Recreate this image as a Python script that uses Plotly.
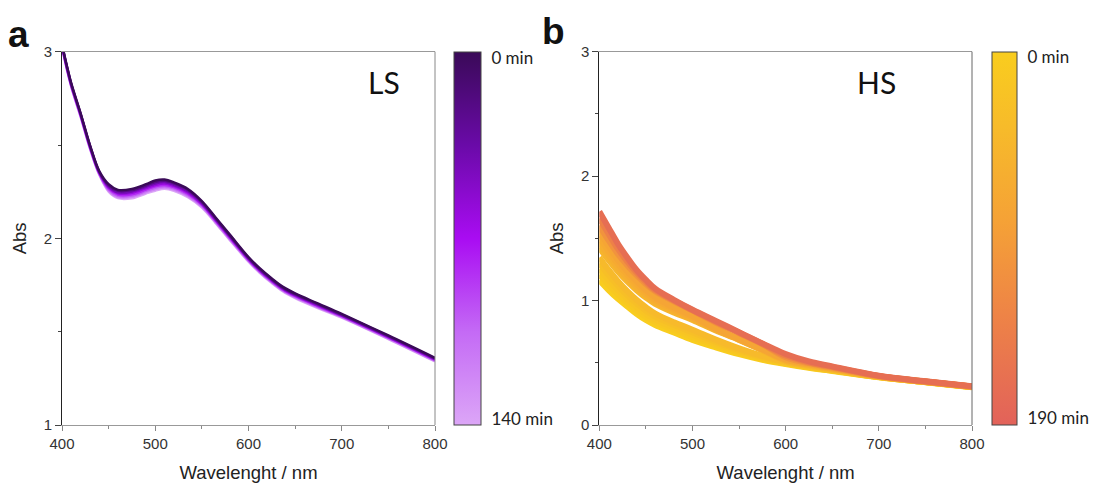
import plotly.graph_objects as go
from plotly.colors import sample_colorscale

# ---------------- data ----------------
ls_wavelength = [400, 405, 410, 420, 430, 440, 450, 460, 475, 490, 500, 510, 520,
                 535, 550, 565, 580, 600, 612, 625, 637, 650, 675, 700, 750, 800]
ls_times = [0, 20, 40, 60, 80, 100, 120, 140]
ls_abs_0 = [3.04, 2.93, 2.83, 2.67, 2.50, 2.36, 2.29, 2.26, 2.265, 2.29, 2.31, 2.315, 2.30,
            2.265, 2.20, 2.11, 2.02, 1.90, 1.84, 1.785, 1.74, 1.705, 1.65, 1.595, 1.48, 1.36]
ls_abs_20 = [3.037, 2.927, 2.827, 2.667, 2.497, 2.357, 2.284, 2.254, 2.258, 2.283, 2.302, 2.308, 2.294,
             2.259, 2.195, 2.106, 2.016, 1.896, 1.836, 1.781, 1.736, 1.701, 1.646, 1.592, 1.477, 1.357]
ls_abs_40 = [3.034, 2.924, 2.824, 2.664, 2.494, 2.354, 2.279, 2.247, 2.251, 2.276, 2.294, 2.301, 2.287,
             2.252, 2.19, 2.101, 2.011, 1.893, 1.833, 1.778, 1.733, 1.698, 1.643, 1.589, 1.474, 1.354]
ls_abs_60 = [3.031, 2.921, 2.821, 2.661, 2.491, 2.351, 2.273, 2.241, 2.244, 2.269, 2.286, 2.294, 2.281,
             2.246, 2.185, 2.097, 2.007, 1.889, 1.829, 1.774, 1.729, 1.694, 1.639, 1.586, 1.471, 1.351]
ls_abs_80 = [3.029, 2.919, 2.819, 2.659, 2.489, 2.349, 2.267, 2.234, 2.236, 2.261, 2.279, 2.286, 2.274,
             2.239, 2.18, 2.093, 2.003, 1.886, 1.826, 1.771, 1.726, 1.691, 1.636, 1.584, 1.469, 1.349]
ls_abs_100 = [3.026, 2.916, 2.816, 2.656, 2.486, 2.346, 2.261, 2.228, 2.229, 2.254, 2.271, 2.279, 2.268,
              2.233, 2.175, 2.089, 1.999, 1.882, 1.822, 1.767, 1.722, 1.687, 1.632, 1.581, 1.466, 1.346]
ls_abs_120 = [3.023, 2.913, 2.813, 2.653, 2.483, 2.343, 2.256, 2.221, 2.222, 2.247, 2.263, 2.272, 2.261,
              2.226, 2.17, 2.084, 1.994, 1.879, 1.819, 1.764, 1.719, 1.684, 1.629, 1.578, 1.463, 1.343]
ls_abs_140 = [3.02, 2.91, 2.81, 2.65, 2.48, 2.34, 2.25, 2.215, 2.215, 2.24, 2.255, 2.265, 2.255,
              2.22, 2.165, 2.08, 1.99, 1.875, 1.815, 1.76, 1.715, 1.68, 1.625, 1.575, 1.46, 1.34]
ls_series = [ls_abs_0, ls_abs_20, ls_abs_40, ls_abs_60, ls_abs_80, ls_abs_100, ls_abs_120, ls_abs_140]

hs_wavelength = [400, 410, 420, 430, 440, 450, 460, 480, 500, 525, 550, 575, 600,
                 625, 650, 700, 750, 800]
hs_times = [0, 10, 20, 30, 40, 50, 60, 70, 80, 110, 140, 170]
hs_abs_0 = [1.164, 1.084, 1.014, 0.954, 0.894, 0.844, 0.804, 0.744, 0.684, 0.624, 0.569, 0.524, 0.489, 0.459, 0.434, 0.384, 0.344, 0.304]
hs_abs_10 = [1.21, 1.125, 1.05, 0.985, 0.922, 0.87, 0.827, 0.765, 0.705, 0.64, 0.58, 0.532, 0.495, 0.463, 0.437, 0.385, 0.345, 0.305]
hs_abs_20 = [1.255, 1.165, 1.085, 1.015, 0.95, 0.895, 0.85, 0.785, 0.725, 0.655, 0.592, 0.54, 0.50, 0.467, 0.44, 0.386, 0.345, 0.306]
hs_abs_30 = [1.30, 1.205, 1.12, 1.045, 0.978, 0.92, 0.873, 0.805, 0.745, 0.67, 0.604, 0.548, 0.505, 0.471, 0.443, 0.387, 0.346, 0.306]
hs_abs_40 = [1.346, 1.246, 1.156, 1.076, 1.006, 0.946, 0.896, 0.826, 0.766, 0.686, 0.616, 0.556, 0.51, 0.475, 0.446, 0.388, 0.346, 0.307]
hs_abs_50 = [1.424, 1.324, 1.234, 1.154, 1.084, 1.024, 0.974, 0.904, 0.844, 0.759, 0.684, 0.60, 0.515, 0.479, 0.449, 0.389, 0.347, 0.307]
hs_abs_60 = [1.468, 1.361, 1.265, 1.181, 1.108, 1.045, 0.991, 0.918, 0.855, 0.765, 0.686, 0.603, 0.52, 0.483, 0.452, 0.39, 0.347, 0.308]
hs_abs_70 = [1.512, 1.399, 1.295, 1.209, 1.132, 1.065, 1.009, 0.932, 0.865, 0.77, 0.689, 0.606, 0.525, 0.487, 0.455, 0.391, 0.348, 0.308]
hs_abs_80 = [1.556, 1.436, 1.326, 1.236, 1.156, 1.086, 1.026, 0.946, 0.876, 0.776, 0.691, 0.61, 0.53, 0.491, 0.458, 0.392, 0.348, 0.309]
hs_abs_110 = [1.604, 1.484, 1.374, 1.284, 1.204, 1.134, 1.074, 0.994, 0.92, 0.824, 0.739, 0.65, 0.545, 0.497, 0.462, 0.393, 0.349, 0.309]
hs_abs_140 = [1.66, 1.535, 1.415, 1.315, 1.225, 1.15, 1.085, 1.0, 0.923, 0.83, 0.742, 0.653, 0.558, 0.504, 0.467, 0.395, 0.35, 0.31]
hs_abs_170 = [1.716, 1.586, 1.456, 1.346, 1.246, 1.166, 1.096, 1.006, 0.926, 0.836, 0.746, 0.656, 0.571, 0.511, 0.471, 0.396, 0.351, 0.311]
hs_series = [hs_abs_0, hs_abs_10, hs_abs_20, hs_abs_30, hs_abs_40, hs_abs_50, hs_abs_60,
             hs_abs_70, hs_abs_80, hs_abs_110, hs_abs_140, hs_abs_170]

ls_colorscale = [[0.0, "#dca6f7"], [0.25, "#c46af5"], [0.5, "#a90cf2"],
                 [0.75, "#6a0aa8"], [1.0, "#3a0a58"]]
hs_colorscale = [[0.0, "#e2625a"], [0.3, "#ee8446"], [0.55, "#f5a236"],
                 [0.8, "#f7bb2a"], [1.0, "#f9cd1e"]]

# ---------------- layout geometry ----------------
W, H = 1099, 483
def px_x(p): return p / W
def px_y(p): return 1 - p / H

fig = go.Figure()

for t, ys in reversed(list(zip(ls_times, ls_series))):
    c = sample_colorscale(ls_colorscale, [1 - t / 140])[0]
    fig.add_trace(go.Scatter(x=ls_wavelength, y=ys, mode="lines", line=dict(color=c, width=2.4, shape="spline"),
                             xaxis="x", yaxis="y", showlegend=False, hoverinfo="skip"))

for t, ys in zip(hs_times, hs_series):
    c = sample_colorscale(hs_colorscale, [1 - t / 190])[0]
    fig.add_trace(go.Scatter(x=hs_wavelength, y=ys, mode="lines", line=dict(color=c, width=6, shape="spline"),
                             xaxis="x2", yaxis="y2", showlegend=False, hoverinfo="skip"))

cb_common = dict(lenmode="pixels", len=373, yanchor="top", y=px_y(51.7), xanchor="left",
                 xpad=0, ypad=0, outlinecolor="#444", outlinewidth=1,
                 ticks="outside", ticklen=7, tickcolor="rgba(0,0,0,0)",
                 tickfont=dict(family="Lato", size=17, color="#222"))
fig.add_trace(go.Scatter(x=[None], y=[None], mode="markers", xaxis="x", yaxis="y", showlegend=False,
                         marker=dict(color=[0], cmin=-140, cmax=0, colorscale=ls_colorscale, showscale=True,
                                     colorbar=dict(x=px_x(454), thickness=27,
                                                   tickvals=[-2.4, -137.7], ticktext=["0 min", "140 min"],
                                                   **cb_common))))
fig.add_trace(go.Scatter(x=[None], y=[None], mode="markers", xaxis="x2", yaxis="y2", showlegend=False,
                         marker=dict(color=[0], cmin=-190, cmax=0, colorscale=hs_colorscale, showscale=True,
                                     colorbar=dict(x=px_x(992), thickness=25,
                                                   tickvals=[-2.5, -186.5], ticktext=["0 min", "190 min"],
                                                   **cb_common))))

axis_font = dict(family="Liberation Sans", size=15, color="#333")
title_font = dict(family="Liberation Sans", size=18.5, color="#222")
def xax(domain, anchor):
    return dict(domain=domain, anchor=anchor, range=[400, 800], tickvals=[400, 500, 600, 700, 800],
                ticks="outside", ticklen=5, tickcolor="#888", showline=True, linecolor="#999", linewidth=1,
                mirror=True, showgrid=False, zeroline=False, tickfont=axis_font, automargin=False,
                minor=dict(tickvals=[450, 550, 650, 750], ticks="outside", ticklen=3, tickcolor="#888"),
                title=dict(text="Wavelenght / nm", font=title_font, standoff=20))
def yax(domain, anchor, rng, tv, mv):
    return dict(domain=domain, anchor=anchor, range=rng, tickvals=tv,
                ticks="outside", ticklen=6, tickcolor="#444", showline=True, linecolor="#222", linewidth=1,
                mirror=False, showgrid=False, zeroline=False, tickfont=axis_font, automargin=False,
                minor=dict(tickvals=mv, ticks="outside", ticklen=3, tickcolor="#444"),
                title=dict(text="Abs", font=title_font, standoff=12))

def label(text, x, y, size, family):
    return dict(text=text, x=px_x(x), y=px_y(y), xref="paper", yref="paper", showarrow=False,
                xanchor="center", yanchor="middle", font=dict(family=family, size=size, color="#111"))

ydom = [px_y(425), px_y(51.7)]
fig.update_layout(
    width=W, height=H, margin=dict(l=0, r=0, t=0, b=0, autoexpand=False),
    paper_bgcolor="white", plot_bgcolor="white", showlegend=False,
    xaxis=xax([px_x(62), px_x(435)], "y"),
    yaxis=yax(ydom, "x", [1, 3], [1, 2, 3], [1.5, 2.5]),
    xaxis2=xax([px_x(599.3), px_x(972)], "y2"),
    yaxis2=yax(ydom, "x2", [0, 3], [0, 1, 2, 3], [0.5, 1.5, 2.5]),
    shapes=[
        dict(type="line", xref="paper", yref="paper", x0=px_x(435), x1=px_x(435), y0=ydom[0], y1=ydom[1],
             line=dict(color="#888", width=1)),
        dict(type="line", xref="paper", yref="paper", x0=px_x(972), x1=px_x(972), y0=ydom[0], y1=ydom[1],
             line=dict(color="#666", width=1)),
    ],
    annotations=[
        label("LS", 383.5, 82, 30, "Lato"),
        label("HS", 876, 82, 30, "Lato"),
        label("<b>a</b>", 18.5, 35, 37, "Liberation Sans"),
        label("<b>b</b>", 553, 31, 37, "Liberation Sans"),
    ],
)

fig.write_html("out.html")
